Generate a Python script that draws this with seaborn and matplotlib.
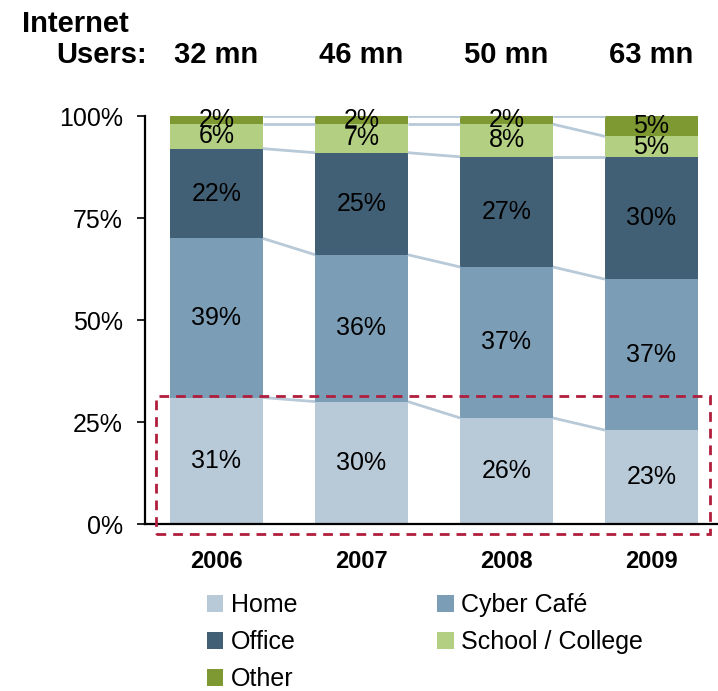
import numpy as np
import pandas as pd
import matplotlib
matplotlib.use("Agg")
import matplotlib.pyplot as plt
import matplotlib.transforms as mtransforms
from matplotlib.patches import Rectangle, Patch
import seaborn as sns

# ---- data ----
years = ["2006", "2007", "2008", "2009"]
users = ["32 mn", "46 mn", "50 mn", "63 mn"]
categories = ["Home", "Cyber Café", "Office", "School / College", "Other"]
home = [31, 30, 26, 23]
cyber = [39, 36, 37, 37]
office = [22, 25, 27, 30]
school = [6, 7, 8, 5]
other = [2, 2, 2, 5]
colors = ["#b8c9d8", "#7b9db6", "#426075", "#b3cf82", "#7e9832"]
yticks = [0, 25, 50, 75, 100]
ytick_labels = ["0%", "25%", "50%", "75%", "100%"]

sns.set_style("white")
plt.rcParams["font.family"] = ["Liberation Sans", "DejaVu Sans"]
plt.rcParams["text.color"] = "black"
plt.rcParams["xtick.color"] = "black"
plt.rcParams["ytick.color"] = "black"
plt.rcParams["axes.labelcolor"] = "black"

series = [home, cyber, office, school, other]
vals = np.array(series, dtype=float)
cum = np.cumsum(vals, axis=0)
bottoms = cum - vals

rows = []
for ci, cat in enumerate(categories):
    for yi, yr in enumerate(years):
        rows.append({"year": yr, "category": cat, "value": vals[ci, yi],
                     "top": cum[ci, yi], "bottom": bottoms[ci, yi]})
df = pd.DataFrame(rows)

fig = plt.figure(figsize=(7.18, 6.91), dpi=100)
ax = fig.add_axes([145 / 718, (691 - 524) / 691, (718 - 145) / 718, (524 - 116) / 691])

bw = 0.64
# stacked bars: draw cumulative tops from largest to smallest
for ci in range(len(categories) - 1, -1, -1):
    sub = df[df["category"] == categories[ci]]
    sns.barplot(data=sub, x="year", y="top", order=years, color=colors[ci],
                width=bw, saturation=1, linewidth=0, errorbar=None, ax=ax)

# connector lines between bars
for ci in range(len(categories)):
    for yi in range(len(years) - 1):
        ax.plot([yi + bw / 2, yi + 1 - bw / 2], [cum[ci, yi], cum[ci, yi + 1]],
                color="#b8c9d8", lw=2, zorder=1, solid_capstyle="butt")

# value labels
for ci in range(len(categories)):
    for yi in range(len(years)):
        v = vals[ci, yi]
        ax.text(yi, bottoms[ci, yi] + v / 2, f"{int(v)}%", ha="center", va="center",
                fontsize=18, color="black", zorder=5)

ax.set_xlim(-0.493, 3.459)
ax.set_ylim(0, 100)
ax.set_yticks(yticks)
ax.set_yticklabels(ytick_labels, fontsize=18)
ax.set_xticks(range(len(years)))
ax.set_xticklabels(years, fontsize=17, fontweight="bold", color="black")
ax.set_xlabel("")
ax.set_ylabel("")
ax.tick_params(axis="y", direction="out", length=6, width=1.2, pad=10, left=True, colors="black")
ax.tick_params(axis="x", length=0, pad=19)
for s in ["top", "right"]:
    ax.spines[s].set_visible(False)
for s in ["left", "bottom"]:
    ax.spines[s].set_visible(True)
    ax.spines[s].set_color("black")
    ax.spines[s].set_linewidth(1.6)

# red dashed highlight box
rect = Rectangle((-0.417, -2.45), 3.403 + 0.417, 31.4 + 2.45, transform=ax.transData,
                 fill=False, edgecolor="#b01e3c", lw=2, linestyle=(0, (3.5, 2.5)),
                 clip_on=False, zorder=6)
ax.add_patch(rect)

# header
fig.text(22 / 718, 1 - 32 / 691, "Internet", ha="left", va="baseline",
         fontsize=21, fontweight="bold")
fig.text(147 / 718, 1 - 63 / 691, "Users:", ha="right", va="baseline",
         fontsize=21, fontweight="bold")
trans = mtransforms.blended_transform_factory(ax.transData, fig.transFigure)
for yi, u in enumerate(users):
    ax.text(yi, 1 - 63 / 691, u, transform=trans, ha="center", va="baseline",
            fontsize=21, fontweight="bold")

# legend (row-wise order: Home, Cyber | Office, School | Other)
order = [0, 2, 4, 1, 3]
handles = [Patch(facecolor=colors[i], edgecolor="none") for i in order]
labels = [categories[i] for i in order]
fig.legend(handles, labels, ncol=2, loc="upper left",
           bbox_to_anchor=(207 / 718, 1 - 593 / 691), frameon=False, fontsize=18,
           handlelength=0.65, handleheight=0.65, handletextpad=0.3,
           columnspacing=5.6, labelspacing=0.53, borderpad=0, borderaxespad=0)

fig.savefig("out.png", dpi=100)
